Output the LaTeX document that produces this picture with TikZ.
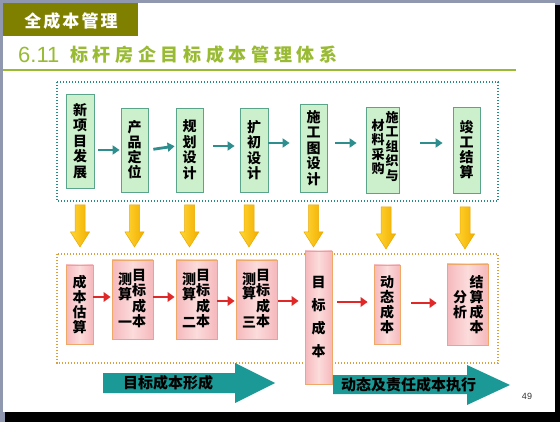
\documentclass[tikz,border=0pt]{standalone}
\usepackage{fontspec}
\newfontfamily\cjk{Noto Sans CJK SC}
\newfontfamily\cjkT{Noto Sans CJK SC}[LetterSpace=26]
\newfontfamily\cjkH{Noto Sans CJK SC}[LetterSpace=12]
\newfontfamily\lsans{Liberation Sans}
\usetikzlibrary{arrows.meta,calc}
\definecolor{hdrolive}{HTML}{808000}
\definecolor{ttlgreen}{HTML}{99BB33}
\definecolor{framegray}{HTML}{9098B0}
\definecolor{gfill}{HTML}{CCF0CC}
\definecolor{gborder}{HTML}{5AA58A}
\definecolor{pinkD}{HTML}{F5B8BC}
\definecolor{pinkL}{HTML}{FCDCDC}
\definecolor{pborder}{HTML}{F0A868}
\definecolor{tealdot}{HTML}{2A8A8A}
\definecolor{orgdot}{HTML}{D9A040}
\definecolor{tealarr}{HTML}{2E8E8E}
\definecolor{redarr}{HTML}{E02828}
\definecolor{yelL}{HTML}{FFD633}
\definecolor{yelD}{HTML}{F2AE00}
\definecolor{yelB}{HTML}{EBA800}
\definecolor{bigteal}{HTML}{1A9996}
\begin{document}
\begin{tikzpicture}[x=1pt,y=-1pt,
  vfont/.style={font=\cjk\bfseries\fontsize{14}{#1}\selectfont},
  tbox/.style={draw=gborder, fill=gfill, line width=0.8pt, inner sep=0pt, align=center},
  pbox/.style={draw=pborder, left color=pinkD, right color=pinkD, middle color=pinkL, line width=0.8pt, inner sep=0pt, align=center},
  coltext/.style={inner sep=0pt, align=center},
  tarr/.style={draw=tealarr, line width=2.8pt, -{Triangle[length=7pt,width=9pt]}},
  rarr/.style={draw=redarr, line width=2.8pt, -{Triangle[length=7pt,width=9.5pt]}},
  yarrow/.style={left color=yelL, right color=yelD, draw=yelB, line width=0.5pt},
  yarr/.pic={\shade[yarrow] (-5,0) -- (5,0) -- (5,27) -- (9.5,27) -- (0,42) -- (-9.5,27) -- (-5,27) -- cycle;},
  bigtext/.style={font=\cjk\bfseries\fontsize{15}{15}\selectfont, inner sep=0pt}
]
\useasboundingbox (0,0) rectangle (560,422);
% slide frame
\fill[framegray] (0,0) rectangle (560,422);
\fill[black] (5,5) rectangle (560,422);
\fill[white] (3,3) rectangle (555,412);
% header
\fill[hdrolive] (3,3) rectangle (138,36);
\node[text=white, font=\cjkH\bfseries\fontsize{17}{17}\selectfont, inner sep=0pt] (hdr) at (71,21) {全成本管理};
\node[anchor=base west, inner sep=0pt, text=ttlgreen, font=\lsans\fontsize{22}{22}\selectfont] (num) at (18,63) {6.11};
\node[anchor=base west, inner sep=0pt, text=ttlgreen, font=\cjkT\bfseries\fontsize{18}{18}\selectfont] (ttl) at (70,62) {标杆房企目标成本管理体系};
\draw[ttlgreen, line width=2pt] (3,70) -- (516,70);
% frames
\draw[tealdot, line width=1.3pt, dash pattern=on 1.3pt off 1.7pt] (57,82) rectangle (498,201);
\draw[orgdot, line width=1.3pt, dash pattern=on 1.3pt off 1.7pt] (57,254) rectangle (498,363);
% top boxes
\node[tbox, vfont=15.5, minimum width=28, minimum height=94] (t1) at (80,141) {新\\项\\目\\发\\展};
\node[tbox, vfont=15, minimum width=27, minimum height=84] (t2) at (134.5,150) {产\\品\\定\\位};
\node[tbox, vfont=15.5, minimum width=27, minimum height=84] (t3) at (189.5,150) {规\\划\\设\\计};
\node[tbox, vfont=15.5, minimum width=28, minimum height=84] (t4) at (254,150) {扩\\初\\设\\计};
\node[tbox, vfont=15.5, minimum width=27, minimum height=88] (t5) at (313.5,148) {施\\工\\图\\设\\计};
\node[tbox, minimum width=33, minimum height=86] (t6) at (382.5,150) {};
\node[coltext, font=\cjk\bfseries\fontsize{13}{14.5}\selectfont] (t6r) at ($(t6.center)+(9.5,-4)$) {施\\工\\组\\织\\与};
\node[coltext, font=\cjk\bfseries\fontsize{13}{14.5}\selectfont] (t6l) at ($(t6.center)+(-4.5,-3)$) {材\\料\\采\\购};
\node[tbox, vfont=15, minimum width=27, minimum height=86] (t7) at (466.5,150) {竣\\工\\结\\算};
% top arrows
\draw[tarr, shorten <=4pt, shorten >=1pt] (t1.east |- t2) -- (t2.west);
\draw[tarr, shorten <=5pt, shorten >=1pt] (t2.east) -- ([yshift=4pt]t3.west);
\draw[tarr, shorten <=10pt, shorten >=5pt] ([yshift=4pt]t3.east) -- ([yshift=4pt]t4.west);
\draw[tarr, shorten <=0pt, shorten >=10pt] ([yshift=7pt]t4.east) -- ([yshift=7pt]t4.east -| t5.west);
\draw[tarr, shorten <=8pt, shorten >=9pt] ([yshift=5pt]t5.east) -- ([yshift=7pt]t6.west);
\draw[tarr, shorten <=21pt, shorten >=10pt] ([yshift=7pt]t6.east) -- ([yshift=7pt]t7.west);
% yellow arrows
\coordinate (ya) at (0,205);
\path (t1.south |- ya) pic {yarr};
\path (t2.south |- ya) pic {yarr};
\path (t3.south |- ya) pic {yarr};
\path (t4.south |- ya) ++(-5,0) pic {yarr};
\path (t5.south |- ya) pic {yarr};
\path (t6.south |- ya) ++(3.5,2) pic {yarr};
\path (t7.south |- ya) ++(-1.5,2) pic {yarr};
% lower boxes
\node[pbox, vfont=15, minimum width=27, minimum height=79] (p1) at (79.5,304.5) {成\\本\\估\\算};
\foreach \i/\x/\d in {2/132.5/一, 3/196.5/二, 4/256.5/三}{
  \node[pbox, minimum width=41, minimum height=79] (p\i) at (\x,299.5) {};
  \node[coltext, font=\cjk\bfseries\fontsize{14}{15.5}\selectfont] (p\i r) at ($(p\i.center)+(6.5,-1)$) {目\\标\\成\\本};
  \node[coltext, font=\cjk\bfseries\fontsize{14}{14.3}\selectfont] (p\i l) at ($(p\i.center)+(-7.5,1)$) {测\\算\\~\\\d};
}
\node[pbox, vfont=23, minimum width=27, minimum height=133] (p5) at (318.5,317.5) {目\\标\\成\\本};
\node[pbox, vfont=15, minimum width=26, minimum height=79] (p6) at (387,304.5) {动\\态\\成\\本};
\node[pbox, minimum width=41, minimum height=81] (p7) at (467.5,304.5) {};
\node[coltext, font=\cjk\bfseries\fontsize{14}{15}\selectfont] (p7r) at ($(p7.center)+(9,0)$) {结\\算\\成\\本};
\node[coltext, font=\cjk\bfseries\fontsize{14}{15}\selectfont] (p7l) at ($(p7.center)+(-7.5,0)$) {分\\析};
% red arrows
\draw[rarr, shorten >=1pt] ([yshift=7.5pt]p1.east) -- ([yshift=7.5pt]p1.east -| p2.west);
\draw[rarr, shorten >=1pt] ([yshift=2.5pt]p2.east) -- ([yshift=2.5pt]p3.west);
\draw[rarr, shorten >=1pt] ([yshift=-1.5pt]p3.east) -- ([yshift=-1.5pt]p4.west);
\draw[rarr, shorten <=1pt, shorten >=6pt] ([yshift=-1.5pt]p4.east) -- ([yshift=-1.5pt]p4.east -| p5.west);
\draw[rarr, shorten <=5pt, shorten >=6pt] ([yshift=2.5pt]p6.west -| p5.east) -- ([yshift=2.5pt]p6.west);
\draw[rarr, shorten <=11pt, shorten >=10pt] ([yshift=1.5pt]p6.east) -- ([yshift=1.5pt]p7.west);
% big teal arrows
\fill[bigteal] (103,373) -- (235,373) -- (235,363) -- (275,383) -- (235,403) -- (235,393) -- (103,393) -- cycle;
\fill[bigteal] (333,375) -- (467,375) -- (467,365) -- (510,385) -- (467,405) -- (467,394) -- (333,394) -- cycle;
\node[bigtext] (f1) at (168,383) {目标成本形成};
\node[bigtext] (f2) at (408.5,385) {动态及责任成本执行};
\node[font=\lsans\fontsize{9}{9}\selectfont, text=black!80, inner sep=0pt] (pg) at (527,396) {49};
\end{tikzpicture}
\end{document}
